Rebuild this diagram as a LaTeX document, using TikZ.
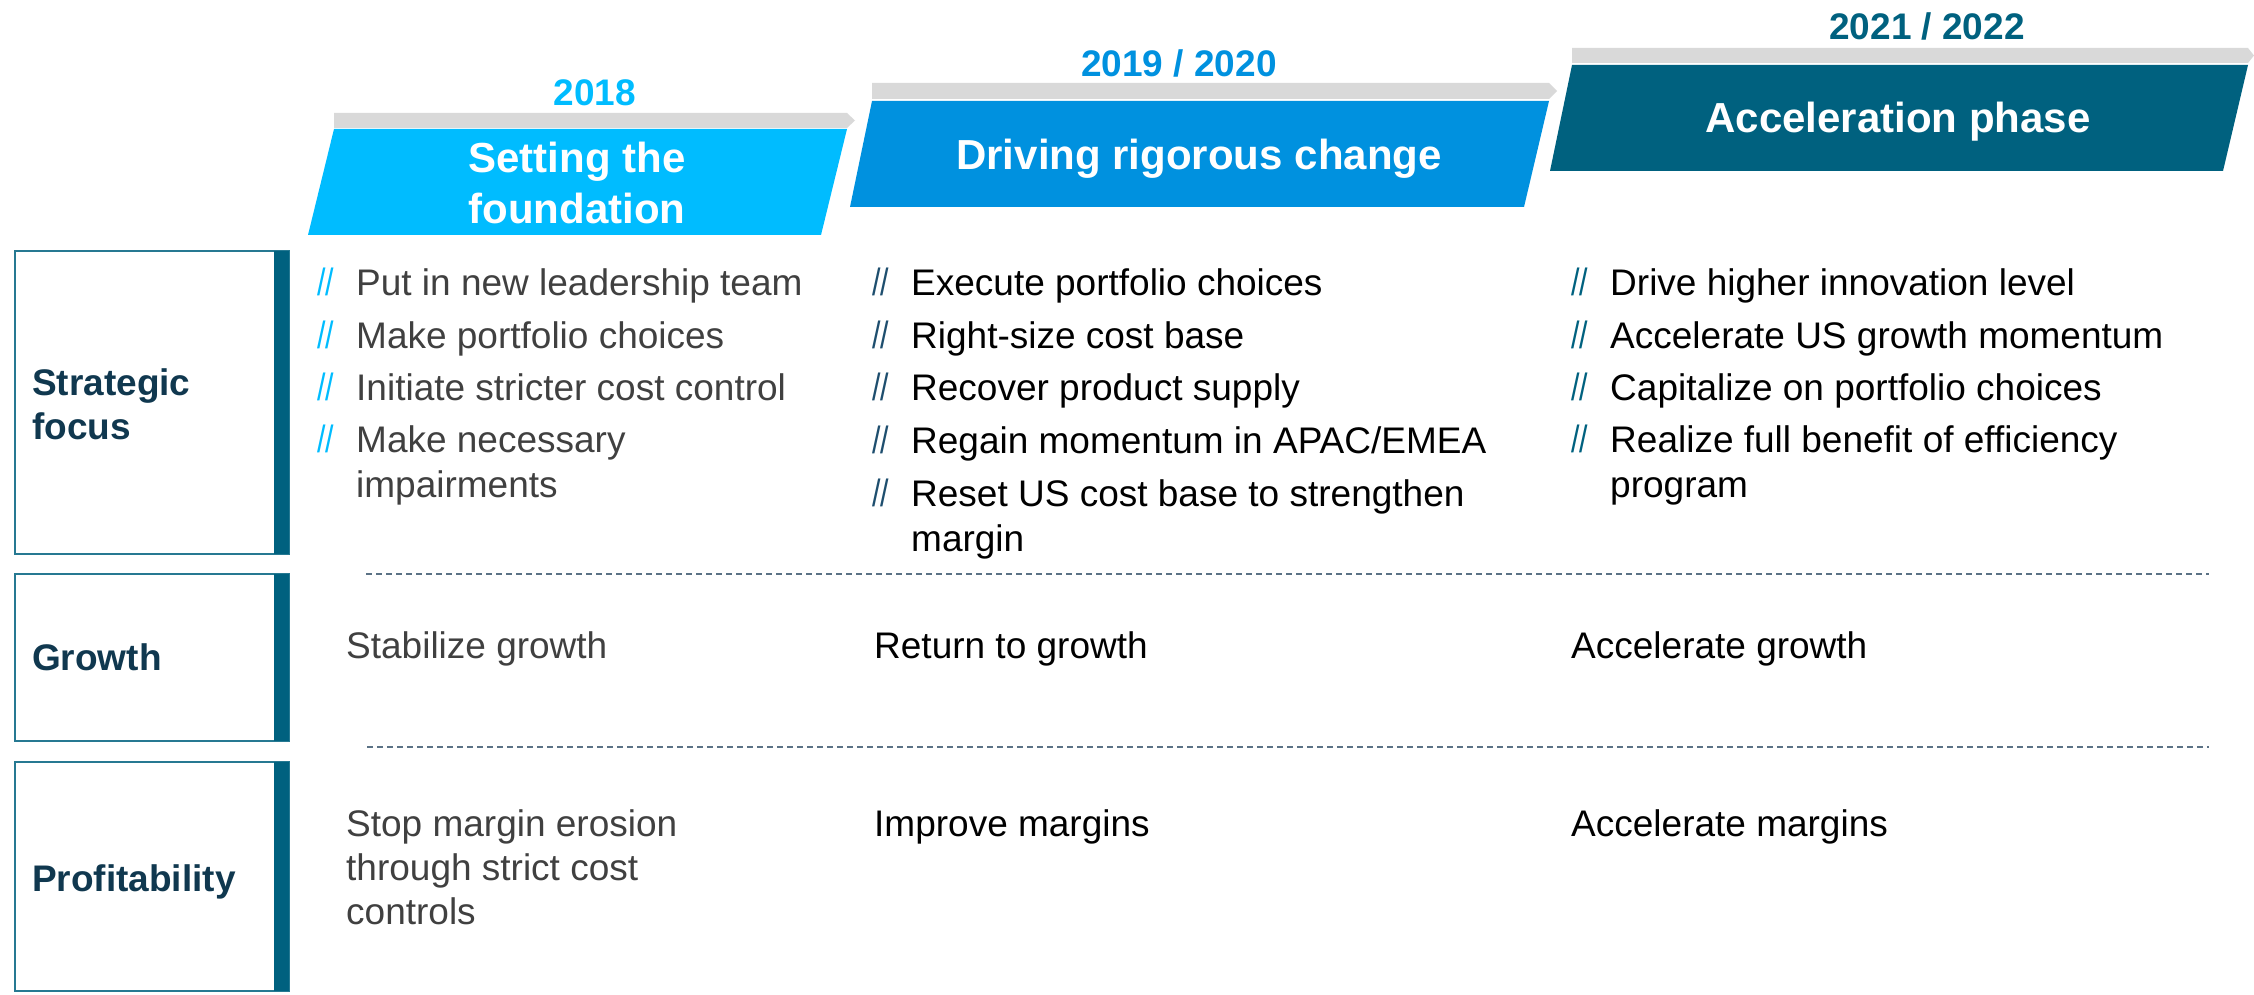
\documentclass[tikz,border=0pt]{standalone}
\usepackage{fontspec}
\setmainfont{Liberation Sans}
\definecolor{cyanp}{HTML}{00BCFF}
\definecolor{bluep}{HTML}{0091DF}
\definecolor{tealp}{HTML}{00617F}
\definecolor{greybar}{HTML}{D9D9D9}
\definecolor{navy}{HTML}{10384F}
\definecolor{txtgrey}{HTML}{404040}
\definecolor{dashc}{HTML}{5B7285}
\definecolor{slashtwo}{HTML}{1E4E6E}
\newcommand{\slsh}{\scalebox{0.8}[1]{//}}
\begin{document}
\begin{tikzpicture}[x=1pt,y=-1pt,
  yearlbl/.style={font=\fontsize{37}{44}\selectfont\bfseries, inner sep=0pt, anchor=base},
  ptitle/.style={font=\fontsize{42}{50}\selectfont\bfseries, text=white, inner sep=0pt, anchor=base},
  body/.style={font=\fontsize{37}{44}\selectfont, inner sep=0pt, anchor=base west},
  slashmk/.style={font=\fontsize{38}{40}\selectfont, inner sep=0pt, anchor=base west},
  rowlbl/.style={font=\fontsize{37}{44}\selectfont\bfseries, text=navy, inner sep=0pt, anchor=base west},
  greyarrow/.style={fill=greybar},
  boxborder/.style={draw=tealp!85, line width=1.5pt},
  dashline/.style={draw=dashc, line width=1.8pt, dash pattern=on 6pt off 4pt}
]
\useasboundingbox (0,0) rectangle (2254,995);

% ---- phase headers ----
\fill[greyarrow] (334,113) -- (847,113) -- (855,120.5) -- (847,128) -- (334,128) -- cycle;
\fill[cyanp] (334,129) -- (847,129) -- (821,235) -- (308,235) -- cycle;
\node[yearlbl, text=cyanp] (y1) at (595,106) {2018};
\node[ptitle] (p1a) at (577,173) {Setting the};
\node[ptitle] (p1b) at (577,223) {foundation};

\fill[greyarrow] (872,83) -- (1549,83) -- (1557,91) -- (1549,99) -- (872,99) -- cycle;
\fill[bluep] (872,101) -- (1549,101) -- (1524,207) -- (850,207) -- cycle;
\node[yearlbl, text=bluep] (y2) at (1179,77) {2019 / 2020};
\node[ptitle] (p2) at (1199,170) {Driving rigorous change};

\fill[greyarrow] (1572,48) -- (2248,48) -- (2254,55.5) -- (2248,63) -- (1572,63) -- cycle;
\fill[tealp] (1572,65) -- (2248,65) -- (2223,171) -- (1550,171) -- cycle;
\node[yearlbl, text=tealp] (y3) at (1927,40) {2021 / 2022};
\node[ptitle] (p3) at (1898,133) {Acceleration phase};

% ---- row label boxes ----
\draw[boxborder] (15,251) rectangle (289,554);
\fill[tealp] (274,251) rectangle (289,554);
\node[rowlbl] (l1a) at (32,395) {Strategic};
\node[rowlbl] (l1b) at (32,439) {focus};

\draw[boxborder] (15,574) rectangle (289,741);
\fill[tealp] (274,574) rectangle (289,741);
\node[rowlbl] (l2) at (32,670) {Growth};

\draw[boxborder] (15,762) rectangle (289,991);
\fill[tealp] (274,762) rectangle (289,991);
\node[rowlbl] (l3) at (32,891) {Profitability};

% ---- dashed separators ----
\coordinate (d1a) at (366,574);
\coordinate (d1b) at (2209,574);
\coordinate (d2a) at (367,747);
\coordinate (d2b) at (2209,747);
\draw[dashline] (d1a) -- (d1b);
\draw[dashline] (d2a) -- (d2b);

% ---- column 1 ----
\begin{scope}[every node/.append style={text=txtgrey}]
\node[slashmk, text=cyanp] (s11) at (317,295) {\slsh};
\node[slashmk, text=cyanp] (s12) at (317,348) {\slsh};
\node[slashmk, text=cyanp] (s13) at (317,400) {\slsh};
\node[slashmk, text=cyanp] (s14) at (317,452) {\slsh};
\node[body] (t11) at (356,295) {Put in new leadership team};
\node[body] (t12) at (356,348) {Make portfolio choices};
\node[body] (t13) at (356,400) {Initiate stricter cost control};
\node[body] (t14) at (356,452) {Make necessary};
\node[body] (t14b) at (356,497) {impairments};
\node[body] (g1) at (346,658) {Stabilize growth};
\node[body] (m1a) at (346,836) {Stop margin erosion};
\node[body] (m1b) at (346,880) {through strict cost};
\node[body] (m1c) at (346,924) {controls};
\end{scope}

% ---- column 2 ----
\node[slashmk, text=slashtwo] (s21) at (872,295) {\slsh};
\node[slashmk, text=slashtwo] (s22) at (872,348) {\slsh};
\node[slashmk, text=slashtwo] (s23) at (872,400) {\slsh};
\node[slashmk, text=slashtwo] (s24) at (872,453) {\slsh};
\node[slashmk, text=slashtwo] (s25) at (872,506) {\slsh};
\node[body] (t21) at (911,295) {Execute portfolio choices};
\node[body] (t22) at (911,348) {Right-size cost base};
\node[body] (t23) at (911,400) {Recover product supply};
\node[body] (t24) at (911,453) {Regain momentum in APAC/EMEA};
\node[body] (t25) at (911,506) {Reset US cost base to strengthen};
\node[body] (t25b) at (911,551) {margin};
\node[body] (g2) at (874,658) {Return to growth};
\node[body] (m2) at (874,836) {Improve margins};

% ---- column 3 ----
\node[slashmk, text=tealp] (s31) at (1571,295) {\slsh};
\node[slashmk, text=tealp] (s32) at (1571,348) {\slsh};
\node[slashmk, text=tealp] (s33) at (1571,400) {\slsh};
\node[slashmk, text=tealp] (s34) at (1571,452) {\slsh};
\node[body] (t31) at (1610,295) {Drive higher innovation level};
\node[body] (t32) at (1610,348) {Accelerate US growth momentum};
\node[body] (t33) at (1610,400) {Capitalize on portfolio choices};
\node[body] (t34) at (1610,452) {Realize full benefit of efficiency};
\node[body] (t34b) at (1610,497) {program};
\node[body] (g3) at (1571,658) {Accelerate growth};
\node[body] (m3) at (1571,836) {Accelerate margins};
\end{tikzpicture}
\end{document}
